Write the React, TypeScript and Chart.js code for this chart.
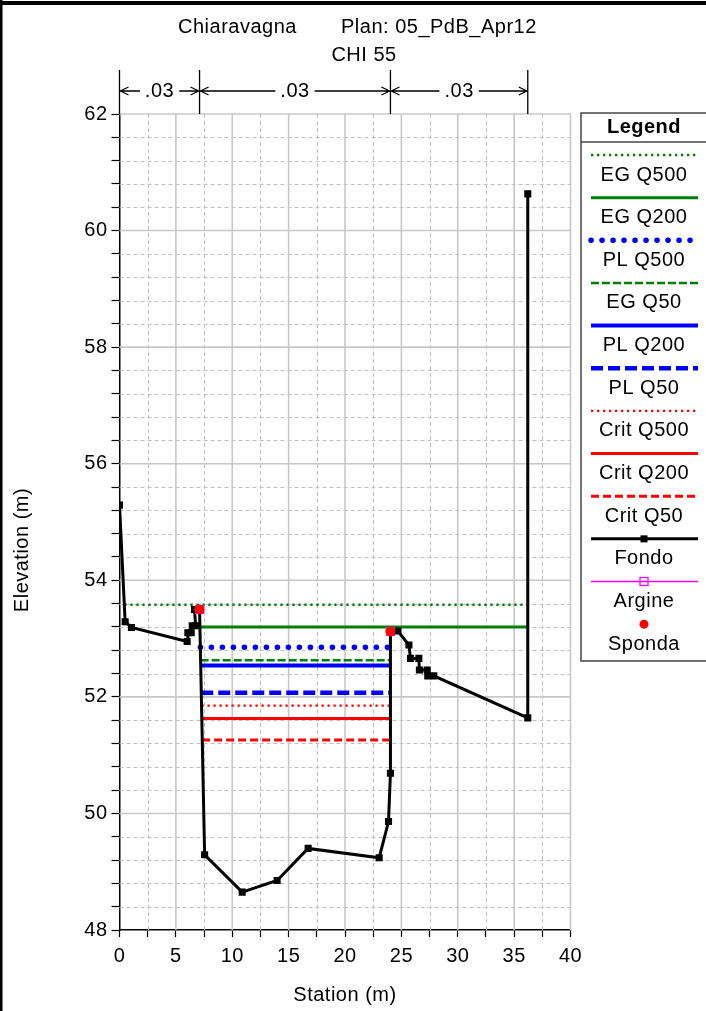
import React, { useEffect, useRef } from 'react';
import { Chart, registerables } from 'chart.js';
Chart.register(...registerables);

const FONT = "'Liberation Sans', Arial, Helvetica, sans-serif";
const FS = 20;
const LS = '0.5px';

// ---- Data ----
const titleRiver = 'Chiaravagna';
const titlePlan = 'Plan: 05_PdB_Apr12';
const titleSection = 'CHI 55';
const xAxisTitle = 'Station (m)';
const yAxisTitle = 'Elevation (m)';

const fondoStation = [0, 0.5, 1.06, 6.0, 6.06, 6.36, 6.45, 6.75, 6.65, 7.1, 7.55, 10.88, 13.98, 16.73, 23.03, 23.86, 24.03, 24.03, 24.69, 25.67, 25.81, 26.55, 26.6, 27.29, 27.34, 27.87, 36.21, 36.21];
const fondoElev = [55.29, 53.29, 53.19, 52.95, 53.1, 53.1, 53.22, 53.22, 53.5, 53.5, 49.29, 48.65, 48.85, 49.4, 49.24, 49.86, 50.69, 53.12, 53.13, 52.89, 52.66, 52.66, 52.46, 52.46, 52.36, 52.36, 51.64, 60.63];

const argineStation = [7.1, 24.03];
const argineElev = [53.5, 53.12];
const spondaStation = [7.1, 24.03];
const spondaElev = [53.5, 53.12];

const wsNames = ['EG Q500', 'EG Q200', 'PL Q500', 'EG Q50', 'PL Q200', 'PL Q50', 'Crit Q500', 'Crit Q200', 'Crit Q50'];
const wsElev = [53.58, 53.2, 52.85, 52.63, 52.54, 52.07, 51.85, 51.63, 51.26];
const wsStart = [0.43, 7.15, 7.17, 7.2, 7.2, 7.25, 7.27, 7.3, 7.33];
const wsEnd = [36.21, 36.21, 24.03, 24.03, 24.03, 24.03, 24.03, 24.03, 24.03];

const nStations = [0, 7.1, 24.03, 36.21];
const nValues = ['.03', '.03', '.03'];

const xMin = 0, xMax = 40, xMinor = 2.5, xMajor = 5;
const yMin = 48, yMax = 62, yMinor = 0.4, yMajor = 2;

// ---- Styles ----
const GREEN = 'rgb(0,128,0)';
const BLUE = 'rgb(0,0,255)';
const RED = 'rgb(255,0,0)';
const MAGENTA = 'rgb(255,0,255)';
const wsStyles = [
  { color: GREEN, width: 2.3, dash: [2.3, 3.7], cap: 'butt' },
  { color: GREEN, width: 3, dash: [], cap: 'butt' },
  { color: BLUE, width: 5.5, dash: [0.1, 10.9], cap: 'round' },
  { color: GREEN, width: 2.5, dash: [8, 3], cap: 'butt' },
  { color: BLUE, width: 4, dash: [], cap: 'butt' },
  { color: BLUE, width: 4.5, dash: [12, 5], cap: 'butt' },
  { color: RED, width: 2.3, dash: [2.3, 3.7], cap: 'butt' },
  { color: RED, width: 3, dash: [], cap: 'butt' },
  { color: RED, width: 3, dash: [8, 4], cap: 'butt' },
];

const isMult = (v: number, m: number) => Math.abs(v / m - Math.round(v / m)) < 1e-6;

function buildDatasets() {
  const ds: any[] = [];
  wsNames.forEach((name, i) => {
    const s = wsStyles[i];
    ds.push({
      label: name,
      kind: 'line',
      data: [
        { x: wsStart[i], y: wsElev[i] },
        { x: wsEnd[i], y: wsElev[i] },
      ],
      showLine: true,
      borderColor: s.color,
      backgroundColor: s.color,
      borderWidth: s.width,
      borderDash: s.dash,
      borderCapStyle: s.cap,
      pointRadius: 0,
      order: 10 + i,
    });
  });
  ds.push({
    label: 'Fondo',
    kind: 'fondo',
    data: fondoStation.map((x, i) => ({ x, y: fondoElev[i] })),
    showLine: true,
    borderColor: '#000',
    backgroundColor: '#000',
    borderWidth: 3,
    pointStyle: 'rect',
    pointRadius: 5,
    pointBackgroundColor: '#000',
    pointBorderWidth: 0,
    order: 2,
  });
  ds.push({
    label: 'Argine',
    kind: 'argine',
    data: argineStation.map((x, i) => ({ x, y: argineElev[i] })),
    showLine: false,
    borderColor: MAGENTA,
    backgroundColor: 'rgba(0,0,0,0)',
    borderWidth: 1.5,
    pointStyle: 'rect',
    pointRadius: 5.5,
    pointBackgroundColor: 'rgba(0,0,0,0)',
    pointBorderColor: MAGENTA,
    pointBorderWidth: 1.3,
    order: 1,
  });
  ds.push({
    label: 'Sponda',
    kind: 'sponda',
    data: spondaStation.map((x, i) => ({ x, y: spondaElev[i] })),
    showLine: false,
    borderColor: RED,
    backgroundColor: RED,
    pointStyle: 'circle',
    pointRadius: 5,
    pointBackgroundColor: RED,
    pointBorderWidth: 0,
    order: 0,
  });
  return ds;
}

const decorPlugin = {
  id: 'decor',
  beforeDraw(chart: any) {
    const ctx = chart.ctx;
    ctx.save();
    ctx.fillStyle = '#fff';
    ctx.fillRect(0, 0, chart.width, chart.height);
    ctx.restore();
    ctx.letterSpacing = LS;
  },
  beforeDatasetsDraw(chart: any) {
    const ctx = chart.ctx;
    const { left, right, top, bottom } = chart.chartArea;
    const xs = chart.scales.x;
    const ys = chart.scales.y;
    ctx.save();
    ctx.strokeStyle = 'rgb(192,192,192)';
    ctx.lineWidth = 1;
    ctx.setLineDash([4, 3]);
    for (let v = xMin; v <= xMax + 1e-9; v += xMinor) {
      if (isMult(v, xMajor)) continue;
      const px = Math.round(xs.getPixelForValue(v)) + 0.5;
      ctx.beginPath(); ctx.moveTo(px, top); ctx.lineTo(px, bottom); ctx.stroke();
    }
    for (let k = 0; k <= Math.round((yMax - yMin) / yMinor); k++) {
      const v = yMin + k * yMinor;
      if (isMult(v, yMajor)) continue;
      const py = Math.round(ys.getPixelForValue(v)) + 0.5;
      ctx.beginPath(); ctx.moveTo(left, py); ctx.lineTo(right, py); ctx.stroke();
    }
    ctx.setLineDash([]);
    ctx.strokeStyle = 'rgb(200,200,200)';
    ctx.lineWidth = 1.6;
    for (let v = xMin + xMajor; v <= xMax + 1e-9; v += xMajor) {
      const px = xs.getPixelForValue(v);
      ctx.beginPath(); ctx.moveTo(px, top); ctx.lineTo(px, bottom); ctx.stroke();
    }
    for (let v = yMin + yMajor; v <= yMax + 1e-9; v += yMajor) {
      const py = ys.getPixelForValue(v);
      ctx.beginPath(); ctx.moveTo(left, py); ctx.lineTo(right, py); ctx.stroke();
    }
    ctx.restore();
  },
  afterDraw(chart: any) {
    const ctx = chart.ctx;
    const xs = chart.scales.x;
    const { top } = chart.chartArea;
    ctx.save();
    ctx.letterSpacing = LS;
    // outer frame (cropped)
    ctx.fillStyle = '#000';
    ctx.fillRect(0, 1, chart.width, 4);
    ctx.fillRect(0, 0, 2.5, chart.height);

    // title
    ctx.fillStyle = '#000';
    ctx.font = `${FS}px ${FONT}`;
    ctx.textBaseline = 'middle';
    ctx.textAlign = 'left';
    ctx.fillText(titleRiver, 178, 27);
    ctx.fillText(titlePlan, 341, 27);
    ctx.textAlign = 'center';
    ctx.fillText(titleSection, 364, 55);

    // Manning's n annotations
    const arrowY = 91;
    ctx.strokeStyle = '#000';
    ctx.lineWidth = 1.3;
    const px = nStations.map((s) => xs.getPixelForValue(s));
    px.forEach((p) => {
      ctx.beginPath(); ctx.moveTo(p, 70); ctx.lineTo(p, top); ctx.stroke();
    });
    for (let i = 0; i < nValues.length; i++) {
      const a = px[i], b = px[i + 1];
      const mid = (a + b) / 2;
      const tw = ctx.measureText(nValues[i]).width;
      const g = tw / 2 + 5;
      ctx.beginPath();
      ctx.moveTo(a, arrowY); ctx.lineTo(mid - g, arrowY);
      ctx.moveTo(mid + g, arrowY); ctx.lineTo(b, arrowY);
      ctx.moveTo(a + 9, arrowY - 4); ctx.lineTo(a + 1, arrowY); ctx.lineTo(a + 9, arrowY + 4);
      ctx.moveTo(b - 9, arrowY - 4); ctx.lineTo(b - 1, arrowY); ctx.lineTo(b - 9, arrowY + 4);
      ctx.stroke();
      ctx.fillText(nValues[i], mid, arrowY);
    }

    // y-axis title
    ctx.save();
    ctx.translate(22, 550);
    ctx.rotate(-Math.PI / 2);
    ctx.textAlign = 'center';
    ctx.fillText(yAxisTitle, 0, 0);
    ctx.restore();

    // legend
    const lx0 = 581, ly0 = 113, lx1 = 708, ly1 = 661;
    const lcx = 644;
    ctx.fillStyle = '#fff';
    ctx.fillRect(lx0, ly0, lx1 - lx0, ly1 - ly0);
    ctx.strokeStyle = 'rgb(70,70,70)';
    ctx.lineWidth = 1.5;
    ctx.strokeRect(lx0, ly0, lx1 - lx0, ly1 - ly0);
    ctx.beginPath(); ctx.moveTo(lx0, 142); ctx.lineTo(lx1, 142); ctx.stroke();
    ctx.fillStyle = '#000';
    ctx.font = `bold ${FS}px ${FONT}`;
    ctx.textAlign = 'center';
    ctx.fillText('Legend', lcx, 127);
    ctx.font = `${FS}px ${FONT}`;
    const sx0 = 591, sx1 = 698;
    chart.data.datasets.forEach((ds: any, i: number) => {
      const sy = 155 + i * 42.65;
      ctx.save();
      if (ds.kind === 'line' || ds.kind === 'fondo' || ds.kind === 'argine') {
        ctx.strokeStyle = ds.borderColor;
        ctx.lineWidth = ds.kind === 'argine' ? 1.3 : ds.borderWidth;
        ctx.setLineDash(ds.borderDash || []);
        ctx.lineCap = ds.borderCapStyle || 'butt';
        ctx.beginPath(); ctx.moveTo(sx0, sy); ctx.lineTo(sx1, sy); ctx.stroke();
      }
      ctx.setLineDash([]);
      if (ds.kind === 'fondo') {
        ctx.fillStyle = '#000';
        ctx.fillRect(lcx - 3.5, sy - 3.5, 7, 7);
      } else if (ds.kind === 'argine') {
        ctx.strokeStyle = MAGENTA;
        ctx.lineWidth = 1.3;
        ctx.strokeRect(lcx - 4, sy - 4, 8, 8);
      } else if (ds.kind === 'sponda') {
        ctx.fillStyle = RED;
        ctx.beginPath(); ctx.arc(lcx, sy, 4.5, 0, Math.PI * 2); ctx.fill();
      }
      ctx.restore();
      ctx.fillStyle = '#000';
      ctx.fillText(ds.label, lcx, sy + 20);
    });
    ctx.restore();
  },
};

export default function App() {
  const ref = useRef<HTMLCanvasElement | null>(null);
  useEffect(() => {
    document.body.style.margin = '0';
    const canvas = ref.current!;
    Chart.defaults.font.family = FONT;
    Chart.defaults.font.size = FS;
    Chart.defaults.color = '#000';
    const chart = new Chart(canvas, {
      type: 'scatter',
      data: { datasets: buildDatasets() },
      options: {
        animation: false,
        responsive: false,
        devicePixelRatio: 1,
        events: [],
        layout: { padding: { left: 0, top: 114, right: 135.5, bottom: 0 } },
        plugins: { legend: { display: false }, tooltip: { enabled: false }, title: { display: false } },
        elements: { line: { tension: 0 } },
        scales: {
          x: {
            type: 'linear',
            min: xMin,
            max: xMax,
            afterFit: (s: any) => { s.height = 81; },
            ticks: {
              stepSize: xMinor,
              autoSkip: false,
              maxRotation: 0,
              padding: 7,
              color: '#000',
              font: { size: FS, family: FONT },
              callback: (v: any) => (isMult(Number(v), xMajor) ? String(Math.round(Number(v))) : ''),
            },
            grid: { drawOnChartArea: false, drawTicks: true, tickLength: 7, tickColor: '#000', tickWidth: 1.2 },
            border: { display: true, color: '#000', width: 1.5 },
            title: { display: true, text: xAxisTitle, color: '#000', font: { size: FS, family: FONT }, padding: { top: 4, bottom: 4 } },
          },
          y: {
            type: 'linear',
            min: yMin,
            max: yMax,
            afterFit: (s: any) => { s.width = 119.5; },
            ticks: {
              stepSize: yMinor,
              autoSkip: false,
              padding: 4,
              color: '#000',
              font: { size: FS, family: FONT },
              callback: (v: any) => (isMult(Number(v), yMajor) ? String(Math.round(Number(v))) : ''),
            },
            grid: { drawOnChartArea: false, drawTicks: true, tickLength: 8, tickColor: '#000', tickWidth: 1.2 },
            border: { display: true, color: '#000', width: 1.5 },
          },
        },
      } as any,
      plugins: [decorPlugin],
    });
    return () => chart.destroy();
  }, []);
  return (
    <div style={{ width: 706, height: 1011, position: 'relative' }}>
      <canvas ref={ref} width={706} height={1011} style={{ display: 'block', width: 706, height: 1011 }} />
    </div>
  );
}
